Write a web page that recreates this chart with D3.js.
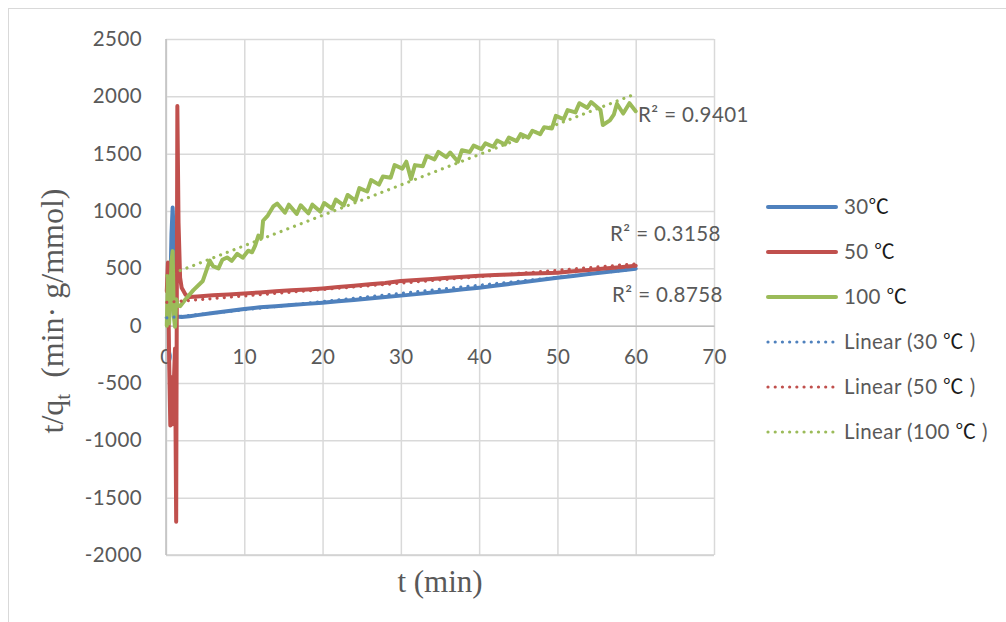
<!DOCTYPE html>
<html>
<head>
<meta charset="utf-8">
<script src="https://cdn.jsdelivr.net/npm/d3@7"></script>
<style>
  html, body { margin: 0; padding: 0; background: #fff; }
  svg { display: block; }
  .tick text { font-family: Lato, "Open Sans", sans-serif; font-size: 20.5px; letter-spacing: 0.4px; fill: #595959; }
</style>
</head>
<body>
<svg id="chart" width="1006" height="622"></svg>
<script>
// ---- data -------------------------------------------------------------
// time (min) and t/qt (min·g/mmol) for each temperature
const t30 = [0.1, 0.4, 0.55, 0.7, 0.85, 0.95, 1.05, 1.15, 1.3, 2, 3, 4, 6, 8, 10, 12, 14, 16, 18, 20, 22, 24, 26, 28, 30, 32, 34, 36, 38, 40, 42, 44, 46, 48, 50, 52, 54, 56, 58, 60];
const q30 = [70, 80, 300, 800, 1030, 850, 400, 120, 80, 75, 82, 92, 110, 128, 145, 160, 170, 180, 190, 200, 212, 224, 236, 249, 262, 275, 289, 303, 317, 331, 348, 365, 383, 400, 418, 434, 450, 466, 482, 497];

const t50 = [0.1, 0.25, 0.4, 0.55, 0.7, 0.85, 1.0, 1.15, 1.3, 1.45, 1.6, 1.8, 2.0, 2.5, 3, 4, 6, 8, 10, 12, 14, 16, 18, 20, 22, 24, 26, 28, 30, 32, 34, 36, 38, 40, 42, 44, 46, 48, 50, 52, 54, 56, 58, 60];
const q50 = [300, 550, -300, -870, -450, -860, -500, -200, -1710, 1915, 900, 420, 330, 270, 250, 255, 265, 272, 280, 290, 300, 308, 316, 325, 337, 349, 361, 372, 390, 399, 408, 418, 427, 436, 441, 447, 452, 457, 462, 474, 486, 498, 510, 523];

const t100 = [0.1, 0.25, 0.4, 0.55, 0.7, 0.85, 1.0, 1.15, 1.3, 1.5, 1.8, 2.5, 3.5, 4.7, 5.0, 5.6, 6.0, 6.7, 7.2, 7.8, 8.4, 9.1, 9.8, 10.5, 11.0, 11.4, 11.8, 12.2, 12.4, 13.0, 13.7, 14.2,
  15.2, 15.7, 16.7, 17.2, 18.2, 18.7, 19.7, 20.2, 21.2, 21.7, 22.7, 23.2, 24.2, 24.7, 25.7, 26.2, 27.2, 27.7, 28.7, 29.2, 30.2, 30.7, 31.3, 31.8, 32.8, 33.3, 34.3, 34.8,
  35.8, 36.3, 37.3, 37.8, 38.8, 39.3, 40.3, 40.8, 41.8, 42.3, 43.3, 43.8, 44.8, 45.3, 46.3, 46.8, 47.8, 48.3, 49.3, 49.8, 50.8, 51.3, 52.3, 52.8, 53.8, 54.3, 55.5, 55.8,
  56.7, 57.2, 57.6, 58.4, 59.2, 60];
const q100 = [0, 430, 20, 250, 560, 650, 80, -10, 230, 175, 170, 230, 310, 390, 450, 567, 520, 500, 575, 595, 565, 627, 593, 654, 640, 700, 785, 767, 915, 960, 1040, 1065,
  985, 1055, 975, 1050, 980, 1055, 995, 1070, 1020, 1100, 1050, 1140, 1090, 1200, 1170, 1270, 1230, 1300, 1290, 1400, 1370, 1430, 1280, 1400, 1390, 1480, 1450, 1515,
  1470, 1510, 1430, 1530, 1515, 1570, 1540, 1590, 1560, 1615, 1580, 1640, 1610, 1670, 1640, 1700, 1670, 1730, 1720, 1830, 1800, 1880, 1860, 1940, 1900, 1950, 1880, 1750,
  1790, 1840, 1935, 1850, 1940, 1870];

// linear trend lines: intercept and slope per series
const trendIntercept = [68, 203, 432];
const trendSlope = [7.1, 5.6, 26.5];
const r2Labels = ["R² = 0.8758", "R² = 0.3158", "R² = 0.9401"];

const seriesNums = ["30", "50 ", "100 "];
const trendNums = ["30 ", "50 ", "100 "];
const colors = ["#4F81BD", "#C0504D", "#9BBB59"];

const tTicks = [0, 10, 20, 30, 40, 50, 60, 70];
const qTicks = [-2000, -1500, -1000, -500, 0, 500, 1000, 1500, 2000, 2500];

// ---- layout -----------------------------------------------------------
const svg = d3.select("#chart");
const plot = { left: 166, right: 714, top: 39, bottom: 555 };
const x = d3.scaleLinear().domain([0, 70]).range([plot.left, plot.right]);
const y = d3.scaleLinear().domain([-2000, 2500]).range([plot.bottom, plot.top]);
const plain = d => String(d);

// chart frame
svg.append("rect").attr("x", 8.5).attr("y", 8.5).attr("width", 1010).attr("height", 630)
  .attr("fill", "none").attr("stroke", "#D9D9D9").attr("stroke-width", 1);

// vertical gridlines
svg.append("g").attr("transform", `translate(0,${plot.bottom})`)
  .call(d3.axisBottom(x).tickValues(tTicks).tickSize(-(plot.bottom - plot.top)).tickFormat(""))
  .call(g => g.select(".domain").remove())
  .call(g => g.selectAll("line").attr("stroke", "#D9D9D9").attr("stroke-width", 1.5));

// horizontal gridlines + value labels
svg.append("g").attr("transform", `translate(${plot.left},0)`)
  .call(d3.axisLeft(y).tickValues(qTicks).tickSize(-(plot.right - plot.left)).tickPadding(24).tickFormat(plain))
  .call(g => g.select(".domain").remove())
  .call(g => g.selectAll("line").attr("stroke", "#D9D9D9").attr("stroke-width", 1.5));

// plot bottom edge and vertical axis line
svg.append("line").attr("x1", plot.left).attr("x2", plot.right).attr("y1", plot.bottom).attr("y2", plot.bottom)
  .attr("stroke", "#D0D0D0").attr("stroke-width", 1.5);
svg.append("line").attr("x1", plot.left).attr("x2", plot.left).attr("y1", plot.top).attr("y2", plot.bottom)
  .attr("stroke", "#BFBFBF").attr("stroke-width", 1.5);

// horizontal axis at zero with time labels
svg.append("g").attr("transform", `translate(0,${y(0)})`)
  .call(d3.axisBottom(x).tickValues(tTicks).tickSize(0).tickPadding(24).tickFormat(plain))
  .call(g => g.select(".domain").attr("stroke", "#BFBFBF").attr("stroke-width", 1.5));

// ---- series -----------------------------------------------------------
const series = [
  { t: t30, q: q30 },
  { t: t50, q: q50 },
  { t: t100, q: q100 }
];
const line = d3.line().x(d => x(d[0])).y(d => y(d[1]));

series.forEach((s, i) => {
  svg.append("path")
    .datum(s.t.map((t, k) => [t, s.q[k]]))
    .attr("d", line)
    .attr("fill", "none")
    .attr("stroke", colors[i])
    .attr("stroke-width", 4)
    .attr("stroke-linejoin", "round")
    .attr("stroke-linecap", "round");
});

// linear trend lines across each series' time span
series.forEach((s, i) => {
  const t0 = d3.min(s.t), t1 = d3.max(s.t);
  const pts = [t0, t1].map(t => [t, trendIntercept[i] + trendSlope[i] * t]);
  svg.append("path")
    .datum(pts)
    .attr("d", line)
    .attr("fill", "none")
    .attr("stroke", colors[i])
    .attr("stroke-width", 3.2)
    .attr("stroke-dasharray", "0.01 7.2")
    .attr("stroke-linecap", "round");
});

// R² labels beside the trend line ends
const r2Pos = [[612, 302], [610, 241], [638, 122]];
r2Labels.forEach((lbl, i) => {
  svg.append("text")
    .attr("x", r2Pos[i][0]).attr("y", r2Pos[i][1])
    .attr("font-family", "Lato, sans-serif").attr("font-size", 20.5)
    .attr("letter-spacing", 0.4)
    .attr("fill", "#595959")
    .text(lbl);
});

// ---- legend -----------------------------------------------------------
const legend = svg.append("g");
const rows = [];
seriesNums.forEach((n, i) => rows.push({ pre: "", num: n, post: "", color: colors[i], dotted: false }));
trendNums.forEach((n, i) => rows.push({ pre: "Linear (", num: n, post: " )", color: colors[i], dotted: true }));

rows.forEach((r, i) => {
  const yy = 207 + i * 45;
  legend.append("line")
    .attr("x1", 768).attr("x2", 836).attr("y1", yy).attr("y2", yy)
    .attr("stroke", r.color)
    .attr("stroke-width", r.dotted ? 3.2 : 4)
    .attr("stroke-dasharray", r.dotted ? "0.01 7.2" : null)
    .attr("stroke-linecap", "round");
  const txt = legend.append("text")
    .attr("x", 844).attr("y", yy + 7)
    .attr("font-family", "Lato, sans-serif").attr("font-size", 20.5)
    .attr("letter-spacing", 0.4)
    .attr("fill", "#595959")
    .style("white-space", "pre");
  txt.append("tspan").text(r.pre + r.num);
  txt.append("tspan").attr("font-family", "'Noto Sans CJK SC'").attr("fill", "#1a1a1a").text("℃");
  if (r.post) txt.append("tspan").text(r.post);
});

// ---- axis titles ------------------------------------------------------
svg.append("text")
  .attr("x", 440).attr("y", 592)
  .attr("text-anchor", "middle")
  .attr("font-family", "'Liberation Serif', 'Times New Roman', serif")
  .attr("font-size", 31)
  .attr("fill", "#595959")
  .text("t (min)");

const yTitle = svg.append("text")
  .attr("transform", "translate(63,311) rotate(-90)")
  .attr("text-anchor", "middle")
  .attr("font-family", "'Liberation Serif', 'Times New Roman', serif")
  .attr("font-size", 32)
  .attr("fill", "#595959")
  .style("white-space", "pre");
yTitle.append("tspan").text("t/q");
yTitle.append("tspan").attr("font-size", 21).attr("dy", 7).text("t");
yTitle.append("tspan").attr("dy", -7).text("  (min· g/mmol)");
</script>
</body>
</html>
